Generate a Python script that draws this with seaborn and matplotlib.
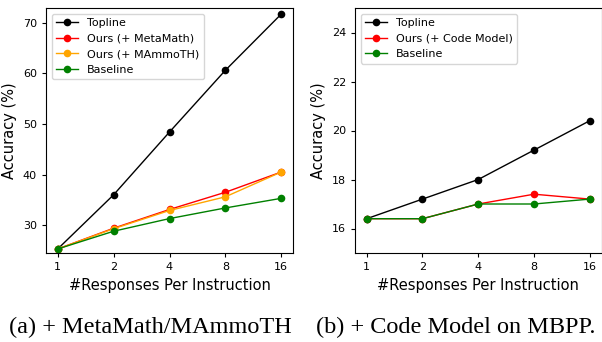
import matplotlib
matplotlib.use("Agg")
import matplotlib.pyplot as plt
import seaborn as sns
import pandas as pd
from matplotlib.ticker import FixedLocator, FixedFormatter, NullLocator

# Number of sampled responses per instruction
responses = [1, 2, 4, 8, 16]

# (a) math reasoning accuracy (%)
math_topline = [25.3, 36.0, 48.4, 60.6, 71.7]
math_metamath = [25.3, 29.4, 33.1, 36.5, 40.5]
math_mammoth = [25.3, 29.3, 32.9, 35.6, 40.5]
math_baseline = [25.3, 28.8, 31.3, 33.4, 35.3]

# (b) code generation accuracy (%) on MBPP
code_topline = [16.4, 17.2, 18.0, 19.2, 20.4]
code_ours = [16.4, 16.4, 17.0, 17.4, 17.2]
code_baseline = [16.4, 16.4, 17.0, 17.0, 17.2]

W, H = 602, 342
fig = plt.figure(figsize=(W / 100, H / 100), dpi=100)


def box(x0, x1, y0, y1):
    return [x0 / W, 1 - y1 / H, (x1 - x0) / W, (y1 - y0) / H]


ax_a = fig.add_axes(box(46, 293, 8, 253))
ax_b = fig.add_axes(box(355, 601.5, 8, 253))


def draw(ax, series, ylim, yticks):
    frames = []
    for name, vals, color in series:
        frames.append(pd.DataFrame({"n": responses, "acc": vals, "method": name}))
    df = pd.concat(frames, ignore_index=True)
    palette = {name: color for name, _, color in series}
    sns.lineplot(data=df, x="n", y="acc", hue="method", palette=palette,
                 marker="o", markersize=5.5, markeredgewidth=0, linewidth=1.0,
                 ax=ax, legend=True)
    ax.set_xscale("log", base=2)
    ax.xaxis.set_major_locator(FixedLocator(responses))
    ax.xaxis.set_major_formatter(FixedFormatter([str(r) for r in responses]))
    ax.xaxis.set_minor_locator(NullLocator())
    ax.set_xlim(1 / 2 ** 0.21, 16 * 2 ** 0.21)
    ax.set_ylim(*ylim)
    ax.set_yticks(yticks)
    ax.tick_params(labelsize=8, length=3, width=0.8)
    ax.set_xlabel("#Responses Per Instruction", fontsize=10.5)
    ax.set_ylabel("Accuracy (%)", fontsize=10.5)
    for s in ax.spines.values():
        s.set_linewidth(0.8)
    ax.legend(loc="upper left", fontsize=8, title=None, framealpha=0.8,
              borderaxespad=0.5)


draw(ax_a, [("Topline", math_topline, "black"),
            ("Ours (+ MetaMath)", math_metamath, "red"),
            ("Ours (+ MAmmoTH)", math_mammoth, "orange"),
            ("Baseline", math_baseline, "green")],
     (24.5, 72.9), [30, 40, 50, 60, 70])

draw(ax_b, [("Topline", code_topline, "black"),
            ("Ours (+ Code Model)", code_ours, "red"),
            ("Baseline", code_baseline, "green")],
     (15, 25), [16, 18, 20, 22, 24])

cap = dict(fontsize=17.5, family="Liberation Serif", ha="center", va="baseline")
fig.text(150 / W, 1 - 333 / H, "(a) + MetaMath/MAmmoTH", **cap)
fig.text(456 / W, 1 - 333 / H, "(b) + Code Model on MBPP.", **cap)

fig.savefig("out.png", dpi=100)
